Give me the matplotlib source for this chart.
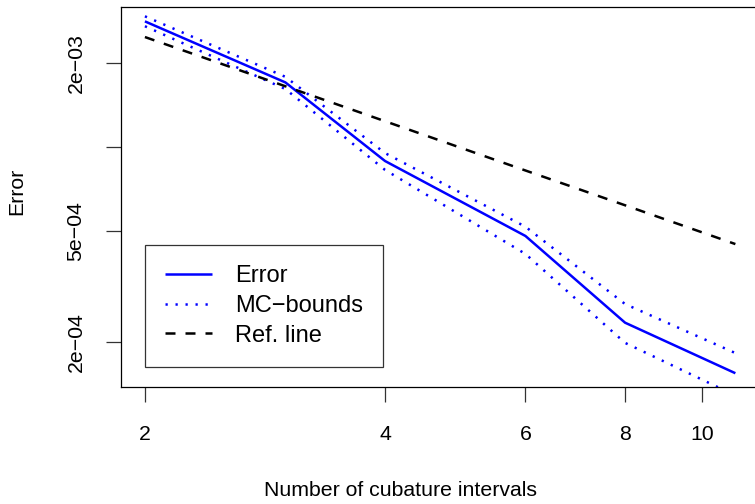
import numpy as np
import matplotlib
matplotlib.use("Agg")
import matplotlib.pyplot as plt

# number of cubature intervals
n_int = [2, 3, 4, 6, 8, 11]

# values
err = [2.81e-3, 1.70e-3, 8.9e-4, 4.80e-4, 2.35e-4, 1.55e-4]
mc_upper = [2.93e-3, 1.78e-3, 9.5e-4, 5.18e-4, 2.74e-4, 1.83e-4]
mc_lower = [2.70e-3, 1.61e-3, 8.27e-4, 4.14e-4, 1.99e-4, 1.29e-4]
ref_line = [2.47e-3, 1.647e-3, 1.235e-3, 8.23e-4, 6.18e-4, 4.49e-4]

xticks = [2, 4, 6, 8, 10]
yticks = [2e-4, 5e-4, 1e-3, 2e-3]
ytick_labels = ["2e\u221204", "5e\u221204", "", "2e\u221203"]

plt.rcParams['font.family'] = ['Liberation Sans', 'DejaVu Sans']
fs = 15.3
fs_leg = 17

fig = plt.figure(figsize=(7.55, 5.04), dpi=100)
ax = fig.add_axes([121.3 / 755, (504 - 387.3) / 504, (759 - 121.3) / 755, 380 / 504])

blue = '#0000FF'
lw = 1.8
ax.plot(n_int, err, color=blue, lw=lw, label='Error', solid_capstyle='butt')
ax.plot(n_int, mc_upper, color=blue, lw=lw, dashes=(0.9, 3.1), label='MC\u2212bounds')
ax.plot(n_int, mc_lower, color=blue, lw=lw, dashes=(0.9, 3.1))
ax.plot(n_int, ref_line, color='black', lw=lw, dashes=(4, 4), label='Ref. line')

ax.set_xscale('log')
ax.set_yscale('log')

# R-style 4% axis extension on the log scale
lx = np.log(n_int)
dx = 0.04 * (lx.max() - lx.min())
ax.set_xlim(np.exp(lx.min() - dx), np.exp(lx.max() + dx))
ly = np.log(err)
dy = 0.04 * (ly.max() - ly.min())
ax.set_ylim(np.exp(ly.min() - dy), np.exp(ly.max() + dy))

ax.xaxis.set_minor_locator(matplotlib.ticker.NullLocator())
ax.yaxis.set_minor_locator(matplotlib.ticker.NullLocator())
ax.set_xticks(xticks)
ax.set_xticklabels([str(t) for t in xticks], fontsize=fs)
ax.set_yticks(yticks)
ax.set_yticklabels(ytick_labels, fontsize=fs, rotation=90, va='center')
ax.tick_params(axis='both', length=10.8, width=0.9, color='#333333', pad=16)
ax.tick_params(axis='y', pad=15)

for s in ax.spines.values():
    s.set_linewidth(0.9)
ax.spines['right'].set_visible(False)

ax.set_xlabel('Number of cubature intervals', fontsize=fs)
ax.set_ylabel('Error', fontsize=fs)
ax.xaxis.set_label_coords((401 - 121.3) / 637.7, (387.3 - 491) / 380)
ax.xaxis.label.set_va('center')
ax.yaxis.set_label_coords((16.5 - 121.3) / 637.7, (387.3 - 191) / 380)
ax.yaxis.label.set_va('center')

leg = ax.legend(loc='upper left', bbox_to_anchor=((144.7 - 121.3) / 637.7, (387.3 - 245) / 380),
                fontsize=fs_leg, frameon=True, fancybox=False, edgecolor='black',
                handlelength=2.0, handletextpad=0.97, labelspacing=0.33,
                borderpad=0.85, borderaxespad=0)
leg.get_frame().set_linewidth(0.9)

fig.savefig('out.png', dpi=100)
